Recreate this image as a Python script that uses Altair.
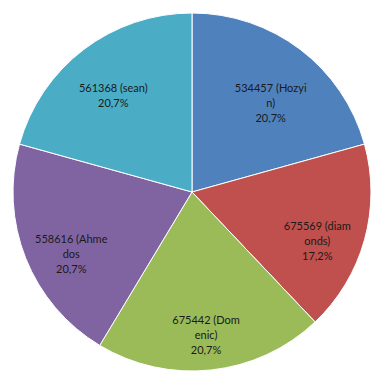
import altair as alt
import pandas as pd

names = ["Hozyin", "diamonds", "Domenic", "Ahmedos", "sean"]
counts = [6, 5, 6, 6, 6]
labels = [
    "534457 (Hozyi\nn)\n20,7%",
    "675569 (diam\nonds)\n17,2%",
    "675442 (Dom\nenic)\n20,7%",
    "558616 (Ahme\ndos\n20,7%",
    "561368 (sean)\n20,7%",
]
colors = ["#4F81BD", "#C0504D", "#9BBB59", "#8064A2", "#4BACC6"]

df = pd.DataFrame({"name": names, "count": counts, "label": labels,
                   "order": list(range(len(names)))})

base = alt.Chart(df).encode(
    theta=alt.Theta("count:Q", stack=True),
    order=alt.Order("order:Q"),
)

pie = base.mark_arc(radius=179, stroke="white", strokeWidth=1).encode(
    color=alt.Color("name:N", scale=alt.Scale(domain=names, range=colors), legend=None)
)

text = base.mark_text(radius=130, lineBreak="\n", font="Lato", fontSize=11,
                      color="#1a1a1a", align="center", baseline="middle",
                      lineHeight=15).encode(text="label:N")

chart = (pie + text).properties(
    width=368, height=368, padding=0,
    autosize=alt.AutoSizeParams(type="none"),
).configure_view(stroke=None)

chart.save("out.html", embed_options={"renderer": "svg", "actions": False})
